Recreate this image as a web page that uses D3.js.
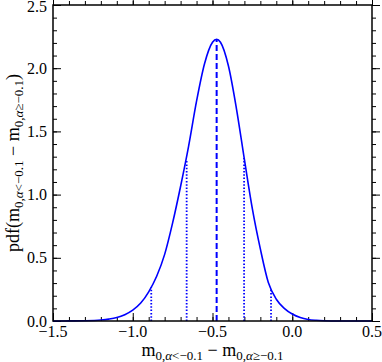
<!DOCTYPE html>
<html>
<head>
<meta charset="utf-8">
<script src="https://cdn.jsdelivr.net/npm/d3@7"></script>
<style>
  body { margin: 0; background: #fff; }
  text { font-family: "Liberation Serif", "DejaVu Serif", serif; }
</style>
</head>
<body>
<div id="chart"></div>
<script>

var margin = {top: 5, right: 10, bottom: 41, left: 53};

var W = 382, H = 362,
	width = W - margin.left - margin.right,
	height = H - margin.top - margin.bottom;

// pdf curve
var curveX = [-1.5, -1.45, -1.4, -1.3, -1.2, -1.15, -1.1, -1.05, -1.0, -0.95, -0.9, -0.85, -0.8, -0.75, -0.7, -0.65, -0.6, -0.55, -0.5, -0.474,
	-0.45, -0.4, -0.35, -0.3, -0.25, -0.2, -0.15, -0.1, -0.05, 0.0, 0.05, 0.1, 0.15, 0.2, 0.3, 0.4, 0.5];
var curveY = [0.0001, 0.0003, 0.0006, 0.0022, 0.008, 0.015, 0.027, 0.05, 0.086, 0.142, 0.231, 0.354, 0.527, 0.776, 1.066, 1.382, 1.739, 2.035, 2.205, 2.229,
	2.205, 2.017, 1.681, 1.278, 0.887, 0.57, 0.305, 0.172, 0.1, 0.055, 0.027, 0.012, 0.0055, 0.0023, 0.0003, 0.0, 0.0];

// median (dashed) and interval bounds (dotted)
var meanX = -0.474, meanY = 2.229;
var boundX = [-0.884, -0.662, -0.302, -0.133];
var boundY = [0.265, 1.27, 1.29, 0.255];

var xTicks = [-1.5, -1.0, -0.5, 0.0, 0.5];
var yTicks = [0.0, 0.5, 1.0, 1.5, 2.0, 2.5];
var xMinor = d3.range(-15, 6).map(function(d){ return d / 10; });
var yMinor = d3.range(0, 26).map(function(d){ return d / 10; });

var x = d3.scaleLinear().domain([-1.5, 0.5]).range([0, width]);
var y = d3.scaleLinear().domain([0, 2.5]).range([height, 0]);

var fmt = function(d){ return d3.format(".1f")(d).replace("-", "\u2212"); };

var svg = d3.select('#chart').append('svg')
	.attr('width', W)
	.attr('height', H);

var g = svg.append('g')
	.attr('transform', 'translate(' + margin.left + ',' + margin.top + ')');

//---ticks on all four sides, pointing inward---
function ticks(sel, axis, vals, len) {
	sel.call(axis.tickValues(vals).tickSizeInner(-len).tickSizeOuter(0).tickFormat(''));
	sel.select('.domain').remove();
	sel.selectAll('line').style('stroke', 'black').style('stroke-width', 1);
}
g.append('g').attr('transform', 'translate(0,' + height + ')').call(ticks, d3.axisBottom(x), xMinor, 4);
g.append('g').attr('transform', 'translate(0,' + height + ')').call(ticks, d3.axisBottom(x), xTicks, 8);
g.append('g').call(ticks, d3.axisTop(x), xMinor, -4);
g.append('g').call(ticks, d3.axisTop(x), xTicks, -8);
g.append('g').call(ticks, d3.axisLeft(y), yMinor, 4);
g.append('g').call(ticks, d3.axisLeft(y), yTicks, 8);
g.append('g').attr('transform', 'translate(' + width + ',0)').call(ticks, d3.axisRight(y), yMinor, -4);
g.append('g').attr('transform', 'translate(' + width + ',0)').call(ticks, d3.axisRight(y), yTicks, -8);

//---tick labels---
g.selectAll('.xlab').data(xTicks).enter().append('text')
	.attr('x', function(d){ return x(d); })
	.attr('y', height + 16)
	.attr('text-anchor', 'middle')
	.style('font-size', '16px')
	.text(fmt);

g.selectAll('.ylab').data(yTicks).enter().append('text')
	.attr('x', -6)
	.attr('y', function(d){ return Math.max(y(d) + 5.5, 6.5); })
	.attr('text-anchor', 'end')
	.style('font-size', '16px')
	.text(fmt);

//---curve---
var pts = curveX.map(function(d, i){ return [d, curveY[i]]; });
g.append('path')
	.datum(pts)
	.attr('d', d3.line().x(function(d){ return x(d[0]); }).y(function(d){ return y(d[1]); }).curve(d3.curveMonotoneX))
	.style('fill', 'none')
	.style('stroke', '#0000ff')
	.style('stroke-width', 1.6);

g.append('line')
	.attr('x1', x(meanX)).attr('x2', x(meanX))
	.attr('y1', y(0)).attr('y2', y(meanY))
	.style('stroke', '#0000ff')
	.style('stroke-width', 2)
	.style('stroke-dasharray', '6,3');

g.selectAll('.bound').data(boundX).enter().append('line')
	.attr('x1', function(d){ return x(d); })
	.attr('x2', function(d){ return x(d); })
	.attr('y1', y(0))
	.attr('y2', function(d, i){ return y(boundY[i]); })
	.style('stroke', '#0000ff')
	.style('stroke-width', 1.8)
	.style('stroke-dasharray', '1.5,1.8');

//---frame---
g.append('rect')
	.attr('width', width)
	.attr('height', height)
	.style('fill', 'none')
	.style('stroke', 'black')
	.style('stroke-width', 1.5);

//---axis labels---
function label(t, pre, post) {
	if (pre) t.append('tspan').text(pre);
	t.append('tspan').text('m');
	t.append('tspan').attr('dy', 4).style('font-size', '13px').text('0,').append('tspan').style('font-style', 'italic').text('\u03b1');
	t.append('tspan').style('font-size', '13px').text('<\u22120.1');
	t.append('tspan').attr('dy', -4).text(' \u2212 m');
	t.append('tspan').attr('dy', 4).style('font-size', '13px').text('0,').append('tspan').style('font-style', 'italic').text('\u03b1');
	t.append('tspan').style('font-size', '13px').text('\u2265\u22120.1');
	if (post) t.append('tspan').attr('dy', -4).text(post);
}

var xl = svg.append('text')
	.attr('x', margin.left + width / 2)
	.attr('y', 356)
	.attr('text-anchor', 'middle')
	.style('font-size', '18px');
label(xl);

var yl = svg.append('text')
	.attr('transform', 'translate(19,' + (margin.top + height / 2) + ') rotate(-90)')
	.attr('text-anchor', 'middle')
	.style('font-size', '18px');
label(yl, 'pdf(', ')');

</script>
</body>
</html>
